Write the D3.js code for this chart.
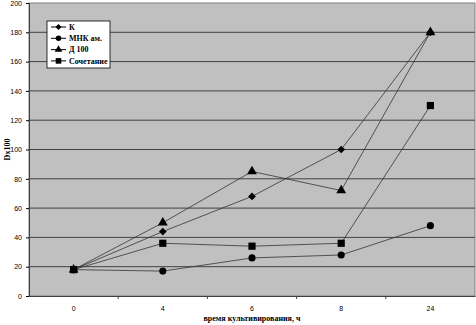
<!DOCTYPE html>
<html><head><meta charset="utf-8">
<script src="https://cdn.jsdelivr.net/npm/d3@7"></script>
<style>body{margin:0;background:#fff}svg{display:block}</style>
</head><body>
<script>
const categories = ["0","4","6","8","24"];
const seriesNames = ["К","МНК ам.","Д 100","Сочетание"];
const valuesK = [18,44,68,100,180];
const valuesMNK = [18,17,26,28,48];
const valuesD100 = [18,50,85,72,180];
const valuesSoch = [18,36,34,36,130];
const yTicks = [0,20,40,60,80,100,120,140,160,180,200];
const symbols = [d3.symbolSquare, d3.symbolCircle, d3.symbolTriangle, d3.symbolSquare];
const symRot = [45, 0, 0, 0];
const symSizes = [30, 40, 42, 52];
const allSeries = [valuesK, valuesMNK, valuesD100, valuesSoch];

const W=476,H=325, L=29, R=475, T=3, B=296;
const svg=d3.select("body").append("svg").attr("width",W).attr("height",H);
const x=d3.scaleBand().domain(categories).range([L,R]);
const y=d3.scaleLinear().domain([0,200]).range([B,T]);

svg.append("rect").attr("x",L).attr("y",T).attr("width",R-L).attr("height",B-T).attr("fill","#c0c0c0").attr("stroke","#808080");
svg.append("g").selectAll("line").data(yTicks.slice(1,-1)).join("line")
  .attr("x1",L).attr("x2",R).attr("y1",d=>y(d)).attr("y2",d=>y(d)).attr("stroke","#404040").attr("stroke-width",1);

const ya=svg.append("g").attr("transform",`translate(${L},0)`).call(d3.axisLeft(y).tickValues(yTicks).tickSize(3).tickPadding(4));
ya.select(".domain").attr("stroke","#404040");
ya.selectAll("text").attr("font-family","Arial, Liberation Sans").attr("font-size",7).attr("fill","#000");
const xa=svg.append("g").attr("transform",`translate(0,${B})`).call(d3.axisBottom(x).tickSize(0).tickPadding(10));
xa.select(".domain").attr("stroke","#404040");
xa.selectAll("text").attr("font-family","Arial, Liberation Sans").attr("font-size",7).attr("fill","#000");
svg.append("g").selectAll("line").data(categories.slice(1)).join("line")
  .attr("x1",d=>x(d)).attr("x2",d=>x(d)).attr("y1",B).attr("y2",B+3).attr("stroke","#404040");

const line=d3.line().x((d,i)=>x(categories[i])+x.bandwidth()/2).y(d=>y(d));
allSeries.forEach((s,k)=>{
  svg.append("path").attr("d",line(s)).attr("fill","none").attr("stroke","#333").attr("stroke-width",0.8);
  svg.append("g").selectAll("path").data(s).join("path")
    .attr("transform",(d,i)=>`translate(${x(categories[i])+x.bandwidth()/2},${y(d)}) rotate(${symRot[k]})`)
    .attr("d",d3.symbol(symbols[k],symSizes[k])).attr("fill","#000");
});

const lg=svg.append("g");
lg.append("rect").attr("x",47).attr("y",21).attr("width",63).attr("height",47).attr("fill","#fff").attr("stroke","#000").attr("stroke-width",0.8);
seriesNames.forEach((n,k)=>{
  const yy=27+k*11.3;
  lg.append("line").attr("x1",51).attr("x2",66).attr("y1",yy).attr("y2",yy).attr("stroke","#000");
  lg.append("path").attr("transform",`translate(58.5,${yy}) rotate(${symRot[k]})`).attr("d",d3.symbol(symbols[k],symSizes[k]*0.6)).attr("fill","#000");
  lg.append("text").attr("x",69).attr("y",yy+2.8).text(n).attr("font-family","Liberation Serif, Times New Roman").attr("font-weight","bold").attr("font-size",8);
});

svg.append("text").attr("transform",`translate(10,${(T+B)/2}) rotate(-90)`).attr("text-anchor","middle")
  .text("Dх100").attr("font-family","Liberation Serif").attr("font-weight","bold").attr("font-size",8);
svg.append("text").attr("x",(L+R)/2).attr("y",321).attr("text-anchor","middle")
  .text("время культивирования, ч").attr("font-family","Liberation Serif").attr("font-weight","bold").attr("font-size",8);
</script>
</body></html>
